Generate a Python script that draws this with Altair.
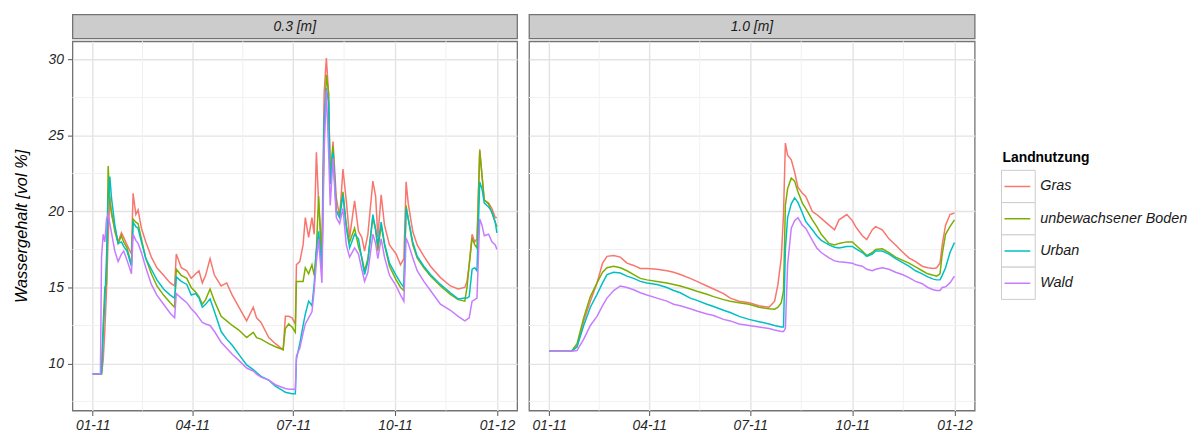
import altair as alt
import pandas as pd

FONT = "Liberation Sans"

series = ["Gras", "unbewachsener Boden", "Urban", "Wald"]
colors = ["#F8766D", "#7CAE00", "#00BFC4", "#C77CFF"]
depths = ["0.3 [m]", "1.0 [m]"]

# ---- 0.3 m (days since 2011-01-01) ----
days_03 = [0, 7, 8, 9.5, 11, 12.5, 14, 15.5, 17, 20, 23, 26, 28, 31, 35, 36.5, 39, 41, 44, 48,
           53, 58, 64, 70, 74, 75.5, 80, 85, 89, 93, 96, 99, 102, 106, 110, 116, 121, 126, 132, 139,
           145, 148, 152, 159, 165, 172, 174, 177, 180, 183, 184, 187, 190, 192, 195, 198, 200, 202, 204, 207,
           209, 211, 213, 214.5, 217, 220, 223, 226, 229, 232, 236.5, 240, 243, 245.5, 248.5, 253, 255.5, 257.5, 260.5, 263.5,
           268, 274, 278, 281, 283, 285, 289, 293, 299, 305, 314, 323, 330, 336, 338, 340, 342.6, 345, 347, 349.5,
           351.5, 353.6, 357.5, 360.5, 363.5, 365]
gras_03 = [9.3, 9.3, 9.3, 10.2, 12.2, 14.8, 18.3, 21.0, 19.8, 18.9, 18.0, 18.6, 18.3, 17.8, 17.2, 21.2, 19.8, 20.1, 18.9, 18.0,
           17.0, 16.3, 15.8, 15.3, 15.1, 17.2, 16.3, 16.1, 15.6, 15.9, 16.1, 15.3, 15.8, 16.9, 15.8, 15.1, 15.3, 14.5, 13.7, 12.8,
           13.7, 13.0, 12.7, 11.7, 11.3, 10.9, 13.1, 13.1, 13.0, 12.6, 16.5, 16.7, 17.8, 19.6, 18.3, 19.6, 18.5, 23.9, 20.6, 17.3,
           27.8, 30.1, 27.8, 21.8, 24.6, 20.9, 19.6, 22.8, 20.7, 18.3, 20.7, 18.7, 18.3, 17.4, 18.5, 22.0, 21.0, 18.3, 21.1, 19.1,
           17.8, 17.2, 16.5, 16.9, 21.95, 20.5, 18.7, 17.8, 17.06, 16.4, 15.65, 15.1, 14.9, 15.0, 15.4, 16.5, 18.5, 18.0, 18.2, 24.1,
           22.4, 20.75, 20.55, 20.2, 19.6, 19.6]
boden_03 = [9.3, 9.3, 9.3, 12.6, 15.0, 15.2, 23.0, 20.6, 20.0, 18.7, 17.9, 18.4, 18.0, 17.6, 16.5, 19.5, 19.3, 19.2, 18.2, 16.9,
            15.9, 15.1, 14.5, 14.0, 13.7, 16.2, 15.8, 15.6, 15.0, 14.7, 14.4, 13.9, 14.2, 14.9, 14.1, 13.1, 12.8, 12.5, 12.2, 11.7,
            12.05, 11.7, 11.6, 11.3, 11.1, 10.9, 12.3, 12.6, 12.4, 12.05, 15.4, 15.4, 15.4, 16.3, 15.9, 16.5, 15.8, 17.5, 21.0, 16.3,
            25.2, 29.0, 27.8, 22.2, 24.3, 20.0, 19.9, 21.3, 19.1, 18.0, 18.9, 17.7, 17.0, 16.1, 16.9, 19.6, 18.8, 17.4, 19.1, 17.8,
            16.4, 15.5, 15.0, 14.8, 20.4, 19.5, 17.8, 16.95, 16.3, 15.75, 15.1, 14.55, 14.2, 14.1, 15.0, 16.5, 18.25, 17.8, 17.6, 24.0,
            22.4, 20.75, 20.5, 19.9, 19.3, 19.0]
urban_03 = [9.3, 9.3, 9.4, 12.0, 14.1, 17.0, 20.9, 22.3, 20.9, 19.1, 17.9, 18.0, 17.7, 17.4, 16.4, 19.3, 19.0, 18.9, 18.0, 16.9,
            16.2, 15.5, 14.9, 14.5, 14.3, 15.7, 15.4, 15.2, 14.5, 14.6, 14.3, 13.7, 13.9, 14.25, 13.4, 12.1, 11.6, 11.2, 10.6, 9.9,
            9.6, 9.4, 9.15, 8.9, 8.5, 8.2, 8.1, 8.05, 8.0, 8.0, 10.3, 11.3, 12.5, 13.25, 14.1, 13.8, 15.2, 17.4, 18.7, 16.3,
            26.1, 28.1, 27.2, 21.8, 23.9, 20.0, 19.6, 21.1, 18.9, 17.6, 18.5, 18.2, 16.9, 15.85, 16.7, 19.8, 18.8, 17.8, 19.3, 17.9,
            16.6, 15.8, 15.3, 15.0, 20.2, 19.5, 18.0, 17.06, 16.4, 15.85, 15.2, 14.65, 14.25, 14.3, 14.3, 14.4, 16.2, 16.3, 16.1, 21.95,
            21.5, 20.55, 20.3, 20.0, 19.3, 18.6]
wald_03 = [9.3, 9.3, 17.0, 18.5, 18.0, 19.5, 19.8, 19.2, 18.6, 17.4, 16.7, 17.2, 17.4, 16.8, 15.9, 18.5, 18.1, 17.9, 17.3, 16.3,
           15.2, 14.5, 13.9, 13.3, 13.0, 14.6, 14.3, 14.0, 13.6, 13.3, 13.0, 12.7, 12.6, 12.5, 12.1, 11.4, 11.0, 10.6, 10.2, 9.7,
           9.5, 9.3, 9.1, 8.9, 8.6, 8.4, 8.35, 8.3, 8.3, 8.3, 10.5, 11.0, 12.0, 12.6, 13.0, 13.4, 14.8, 16.7, 18.2, 15.3,
           23.9, 28.0, 24.0, 20.4, 23.5, 19.6, 19.2, 20.2, 17.8, 17.0, 17.6, 17.2, 16.2, 15.4, 16.0, 18.5, 17.9, 16.9, 18.2, 17.0,
           15.8, 15.1, 14.5, 14.1, 18.25, 17.9, 16.95, 16.1, 15.4, 14.8, 13.9, 13.5, 13.1, 12.8, 12.9, 13.0, 14.1, 14.2, 14.3, 19.5,
           19.1, 18.4, 18.5, 18.0, 17.8, 17.5]

# ---- 1.0 m ----
days_10 = [0, 20, 25, 31, 37, 43, 48, 52, 58, 64, 70, 76, 82, 88, 97, 106, 112, 118, 127, 133,
           142, 148, 157, 163, 171, 180, 189, 198, 203, 206, 209, 211, 212.7, 214.7, 218, 221, 224, 228, 231, 237,
           241, 245, 252, 257, 261, 268, 273, 276, 282, 286, 291, 294, 300, 306, 312, 318, 324, 330, 336, 341,
           346, 349, 352, 354, 357, 361, 365]
gras_10 = [10.8, 10.8, 11.1, 12.8, 14.1, 15.3, 16.6, 17.05, 17.1, 17.0, 16.6, 16.45, 16.25, 16.25, 16.2, 16.1, 16.0, 15.85, 15.6, 15.4,
           15.1, 14.9, 14.6, 14.3, 14.1, 14.0, 13.8, 13.7, 14.1, 15.2, 16.95, 19.8, 24.5, 23.7, 23.4, 22.6, 21.6, 21.2, 21.0, 20.0,
           19.8, 19.55, 19.1, 18.8, 19.45, 19.8, 19.4, 19.0, 18.4, 18.15, 18.8, 19.0, 18.8, 18.2, 17.8, 17.35, 16.95, 16.7, 16.4, 16.3,
           16.25, 16.3, 16.6, 17.8, 19.1, 19.8, 19.9]
boden_10 = [10.8, 10.8, 11.3, 13.0, 14.4, 15.3, 16.0, 16.3, 16.4, 16.3, 16.1, 15.85, 15.6, 15.5, 15.4, 15.3, 15.2, 15.1, 14.9, 14.75,
            14.55, 14.4, 14.2, 14.1, 14.0, 13.9, 13.7, 13.6, 13.57, 13.7, 14.0, 14.8, 20.4, 21.5, 22.2, 22.0, 21.3, 20.55, 20.2, 19.45,
            19.0, 18.5, 17.9, 17.8, 17.9, 18.0, 18.0, 17.8, 17.4, 17.1, 17.3, 17.5, 17.55, 17.3, 17.0, 16.8, 16.6, 16.35, 16.1, 15.9,
            15.8, 15.75, 15.9, 17.2, 18.5, 19.0, 19.45]
urban_10 = [10.8, 10.8, 11.1, 12.5, 13.7, 14.55, 15.3, 15.85, 16.0, 15.95, 15.75, 15.6, 15.4, 15.3, 15.2, 15.0, 14.8, 14.65, 14.3, 14.15,
            13.9, 13.75, 13.5, 13.35, 13.1, 12.9, 12.75, 12.6, 12.5, 12.45, 12.4, 12.4, 17.5, 19.6, 20.5, 20.9, 20.6, 19.9, 19.35, 18.8,
            18.4, 18.1, 17.8, 17.65, 17.6, 17.7, 17.7, 17.55, 17.3, 17.05, 17.2, 17.4, 17.4, 17.2, 16.9, 16.65, 16.4, 16.1, 15.9, 15.7,
            15.55, 15.5, 15.5, 15.8, 16.3, 17.3, 17.95]
wald_10 = [10.8, 10.8, 10.85, 11.6, 12.5, 13.1, 13.8, 14.3, 14.8, 15.1, 15.0, 14.85, 14.65, 14.5, 14.3, 14.1, 13.9, 13.8, 13.6, 13.45,
           13.25, 13.15, 12.9, 12.8, 12.6, 12.5, 12.4, 12.3, 12.2, 12.15, 12.1, 12.1, 12.3, 16.5, 18.9, 19.4, 19.6, 19.1, 18.9, 18.1,
           17.6, 17.3, 16.95, 16.75, 16.7, 16.65, 16.6, 16.5, 16.4, 16.2, 16.1, 16.2, 16.3, 16.2, 16.0, 15.85, 15.65, 15.4, 15.25, 15.0,
           14.85, 14.8, 14.8, 15.0, 15.05, 15.3, 15.75]

y_ticks = [10, 15, 20, 25, 30]
y_minor = [7.5, 12.5, 17.5, 22.5, 27.5]
x_minor_days = [45, 135.5, 227, 319]

start = pd.Timestamp("2011-01-01")


def iso(d):
    return (start + pd.to_timedelta(d, unit="D")).strftime("%Y-%m-%dT%H:%M:%S")


rows = []
for depth, days, vals in [(depths[0], days_03, [gras_03, boden_03, urban_03, wald_03]),
                          (depths[1], days_10, [gras_10, boden_10, urban_10, wald_10])]:
    for name, v in zip(series, vals):
        assert len(v) == len(days), (depth, name, len(v), len(days))
        for d, y in zip(days, v):
            rows.append({"depth": depth, "date": iso(d), "Landnutzung": name, "value": y})
df = pd.DataFrame(rows)

minor_y_df = pd.DataFrame({"value": y_minor})
minor_x_df = pd.DataFrame({"date": [iso(d) for d in x_minor_days]})

x_domain = [alt.DateTime(year=2010, month=12, date=13, hours=18),
            alt.DateTime(year=2012, month=1, date=19, hours=6)]
x_values = [alt.DateTime(year=2011, month=1, date=1), alt.DateTime(year=2011, month=4, date=1),
            alt.DateTime(year=2011, month=7, date=1), alt.DateTime(year=2011, month=10, date=1),
            alt.DateTime(year=2012, month=1, date=1)]

color_scale = alt.Scale(domain=series, range=colors)
BORDER = "#737373"
LABEL = "#262626"
PLOT_H = 372


def panel(depth, width, first):
    x_enc = alt.X("date:T", scale=alt.Scale(domain=x_domain, nice=False),
                  axis=alt.Axis(values=x_values, format="%m-%y", title=None, domain=False,
                                labelFontStyle="italic", labelFontSize=14, labelColor=LABEL,
                                tickSize=5, tickColor="#555555", labelPadding=3,
                                gridColor="#E3E3E3", gridWidth=1.4))
    if first:
        y_axis = alt.Axis(values=y_ticks, title="Wassergehalt [vol %]", titleFontStyle="italic",
                          titleFontWeight="normal", titleFontSize=16.5, titleColor="#000000",
                          titlePadding=19, labelFontStyle="italic", labelFontSize=14,
                          labelColor=LABEL, tickSize=5, tickColor="#555555", labelPadding=4,
                          domain=False, gridColor="#E3E3E3", gridWidth=1.4)
    else:
        y_axis = alt.Axis(values=y_ticks, labels=False, ticks=False, domain=False, title=None,
                          gridColor="#E3E3E3", gridWidth=1.4)
    y_enc = alt.Y("value:Q", scale=alt.Scale(domain=[6.9, 31.2], nice=False, zero=False), axis=y_axis)

    minor_y = alt.Chart(minor_y_df).mark_rule(color="#F1F1F1", strokeWidth=1).encode(y=y_enc)
    minor_x = alt.Chart(minor_x_df).mark_rule(color="#F1F1F1", strokeWidth=1).encode(x=x_enc)
    lines = alt.Chart(df[df.depth == depth]).mark_line(strokeWidth=1.5).encode(
        x=x_enc, y=y_enc,
        color=alt.Color("Landnutzung:N", scale=color_scale, sort=series, legend=None),
    )
    plot = alt.layer(minor_y, minor_x, lines).properties(
        width=width, height=PLOT_H,
        view=alt.ViewBackground(fill="white", stroke=BORDER, strokeWidth=1.3),
    )
    strip = alt.Chart(pd.DataFrame({"label": [depth]})).mark_text(
        fontStyle="italic", fontSize=14, font=FONT, color="#1A1A1A", baseline="middle"
    ).encode(text="label:N", x=alt.value(width / 2), y=alt.value(12.5)).properties(
        width=width, height=24,
        view=alt.ViewBackground(fill="#CCCCCC", stroke=BORDER, strokeWidth=1.3),
    )
    return alt.vconcat(strip, plot, spacing=0)


left = panel(depths[0], 448, True)
right = panel(depths[1], 449, False)

# ---- legend (manual, ggplot style with boxed keys) ----
leg_df = pd.DataFrame({"Landnutzung": series})
band_scale = alt.Scale(domain=series, range=[157, 287], paddingInner=0, paddingOuter=0)
y_band = alt.Y("Landnutzung:N", sort=series, scale=band_scale, axis=None)
y_mid = alt.Y("Landnutzung:N", sort=series, scale=band_scale, axis=None, bandPosition=0.5)

keys = alt.Chart(leg_df).mark_rect(fill="white", stroke="#CCCCCC", strokeWidth=1).encode(
    y=y_band, x=alt.value(0), x2=alt.value(34))
key_lines = alt.Chart(leg_df).mark_rule(strokeWidth=1.5).encode(
    y=y_mid, x=alt.value(3), x2=alt.value(29),
    color=alt.Color("Landnutzung:N", scale=color_scale, sort=series, legend=None))
key_text = alt.Chart(leg_df).mark_text(
    align="left", baseline="middle", fontStyle="italic", fontSize=14.5, font=FONT, color="#1A1A1A"
).encode(y=y_mid, x=alt.value(39), text="Landnutzung:N")
leg_title = alt.Chart(pd.DataFrame({"t": ["Landnutzung"]})).mark_text(
    align="left", baseline="middle", fontWeight="bold", fontSize=14, font=FONT, color="#000000"
).encode(x=alt.value(1), y=alt.value(145), text="t:N")

legend = alt.layer(keys, key_lines, key_text, leg_title).properties(
    width=199, height=396, view=alt.ViewBackground(stroke="transparent"))

chart = alt.hconcat(alt.hconcat(left, right, spacing=8), legend, spacing=24).properties(
    padding={"left": 12, "top": 12, "right": 0, "bottom": 0},
    background="white",
).configure(font=FONT).configure_axis(labelFont=FONT, titleFont=FONT)

chart.save("out.html", embed_options={"renderer": "svg", "actions": False})
